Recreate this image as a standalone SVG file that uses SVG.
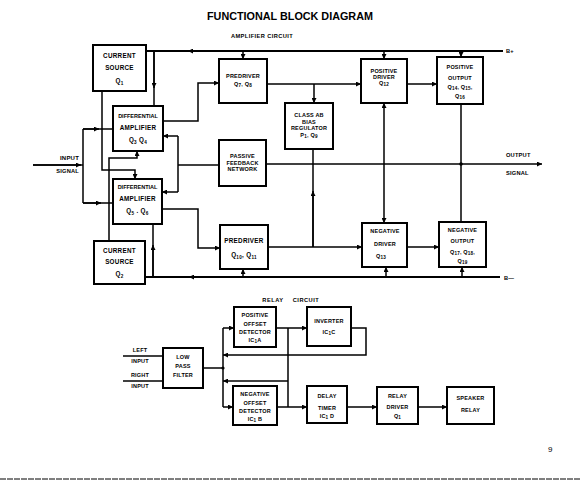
<svg xmlns="http://www.w3.org/2000/svg" width="580" height="480" viewBox="0 0 580 480">
<style>
.b{fill:none;stroke:#000;stroke-width:2}
.c path,.c line{fill:none;stroke:#000;stroke-width:1.5}
.c .rail{stroke-width:2}
text{font-family:"Liberation Sans",Arial,sans-serif;font-weight:bold;fill:#000}
.t{font-size:6.3px;text-anchor:middle;letter-spacing:0.3px}
.s{font-size:5.5px;text-anchor:middle;letter-spacing:0.2px}
.l{font-size:6px;letter-spacing:0.2px}
.u{font-size:4.6px}
</style>
<defs>
<marker id="ah" viewBox="0 0 6 6" refX="6" refY="3" markerWidth="5" markerHeight="5" markerUnits="userSpaceOnUse" orient="auto">
<path d="M0,0 L6,3 L0,6 z" fill="#000"/>
</marker>
<marker id="as" viewBox="0 0 6 6" refX="0" refY="3" markerWidth="5" markerHeight="5" markerUnits="userSpaceOnUse" orient="auto">
<path d="M6,0 L0,3 L6,6 z" fill="#000"/>
</marker>
</defs>
<rect width="580" height="480" fill="#fff"/>
<text x="290" y="20" style="font-size:10.8px;text-anchor:middle">FUNCTIONAL BLOCK DIAGRAM</text>
<text x="262" y="38" class="s" style="font-size:5.7px;letter-spacing:0.4px">AMPLIFIER CIRCUIT</text>
<text x="273" y="302" class="s" style="font-size:5.7px;letter-spacing:0.5px">RELAY</text>
<text x="306" y="302" class="s" style="font-size:5.7px;letter-spacing:0.5px">CIRCUIT</text>

<g class="c" id="connectors">
<path class="rail" d="M146,51 H503"/>
<path d="M200,51 H188" marker-end="url(#ah)"/>
<path d="M154,51 V106"/><path d="M154,51 V88" marker-end="url(#ah)"/>
<path d="M243,51 V59" marker-end="url(#ah)"/>
<path d="M384,51 V59" marker-end="url(#ah)"/>
<path d="M461,51 V57" marker-end="url(#ah)"/>
<path d="M102,91 V170 H135 V179" marker-end="url(#ah)"/>
<path d="M33,165 H83"/><path d="M33,165 H81" marker-end="url(#ah)"/>
<path d="M83,129 V203"/>
<path d="M83,129 H113"/><path d="M83,129 H99" marker-end="url(#ah)"/>
<path d="M83,203 H113"/><path d="M83,203 H101" marker-end="url(#ah)"/>
<path d="M109,241 V158 H137 V151" marker-end="url(#ah)"/>
<path class="rail" d="M145,277 H500"/>
<path d="M200,277 H189" marker-end="url(#ah)"/>
<path d="M153,277 V224"/><path d="M153,277 V245" marker-end="url(#ah)"/>
<path d="M243,277 V269" marker-end="url(#ah)"/>
<path d="M386,277 V267" marker-end="url(#ah)"/>
<path d="M462,277 V267" marker-end="url(#ah)"/>
<path d="M219,165 H178"/>
<path d="M178,136 V192"/>
<path d="M178,136 H163" marker-end="url(#ah)"/>
<path d="M178,192 H162" marker-end="url(#ah)"/>
<path d="M163,121 H198 V83 H219" marker-end="url(#ah)"/>
<path d="M162,209 H198 V248 H220" marker-end="url(#ah)"/>
<path d="M267,84 H361" marker-end="url(#ah)"/>
<path d="M314,84 V103" marker-end="url(#ah)"/>
<path d="M407,84 H437" marker-end="url(#ah)"/>
<path d="M268,247 H362" marker-end="url(#ah)"/>
<path d="M313,247 V149"/><path d="M313,247 V191" marker-end="url(#ah)"/>
<path d="M407,247 H439" marker-end="url(#ah)"/>
<path d="M384,103 V223" marker-start="url(#as)" marker-end="url(#ah)"/>
<path d="M461,104 V222"/>
<path d="M266,164 H542" marker-end="url(#ah)"/>
<circle cx="461" cy="164" r="1.8" fill="#000"/>
<path d="M123,356 H163"/>
<path d="M123,381 H163"/>
<path d="M203,368 H223"/>
<circle cx="223" cy="368" r="1.6" fill="#000"/>
<path d="M223,328 V407"/>
<path d="M223,328 H234" marker-end="url(#ah)"/>
<path d="M223,407 H233" marker-end="url(#ah)"/>
<path d="M276,328 H307" marker-end="url(#ah)"/>
<path d="M277,407 H307" marker-end="url(#ah)"/>
<path d="M288,328 V407"/>
<path d="M351,328 H366 V355 H223" marker-end="url(#ah)"/>
<path d="M288,381 H223" marker-end="url(#ah)"/>
<path d="M347,407 H377" marker-end="url(#ah)"/>
<path d="M418,407 H447" marker-end="url(#ah)"/>
</g>

<g id="cs1"><rect class="b" x="93" y="45" width="53" height="46"/>
<text class="t" x="119.5" y="58">CURRENT</text><text class="t" x="119.5" y="70">SOURCE</text><text class="t" x="119.5" y="83">Q<tspan class="u" dy="1.5">1</tspan></text></g>
<g id="da1"><rect class="b" x="113" y="106" width="50" height="45"/>
<text class="s" x="138" y="118" style="letter-spacing:0">DIFFERENTIAL</text><text class="t" x="138" y="130">AMPLIFIER</text><text class="t" x="138" y="142">Q<tspan class="u" dy="1.5">3</tspan><tspan dy="-1.5">  Q</tspan><tspan class="u" dy="1.5">4</tspan></text></g>
<g id="da2"><rect class="b" x="113" y="179" width="49" height="45"/>
<text class="s" x="137.5" y="189" style="letter-spacing:0">DIFFERENTIAL</text><text class="t" x="137.5" y="201">AMPLIFIER</text><text class="t" x="137.5" y="213">Q<tspan class="u" dy="1.5">5</tspan><tspan dy="-1.5"> . Q</tspan><tspan class="u" dy="1.5">6</tspan></text></g>
<g id="cs2"><rect class="b" x="94" y="241" width="51" height="43"/>
<text class="t" x="119.5" y="253">CURRENT</text><text class="t" x="119.5" y="264">SOURCE</text><text class="t" x="119.5" y="276">Q<tspan class="u" dy="1.5">2</tspan></text></g>
<g id="pd1"><rect class="b" x="219" y="59" width="48" height="44"/>
<text class="s" x="243" y="78">PREDRIVER</text><text class="s" x="243" y="86">Q<tspan class="u" dy="1.3">7</tspan><tspan dy="-1.3">, Q</tspan><tspan class="u" dy="1.3">8</tspan></text></g>
<g id="cab"><rect class="b" x="285" y="103" width="48" height="46"/>
<text class="s" x="309" y="117">CLASS AB</text><text class="s" x="309" y="123.5">BIAS</text><text class="s" x="309" y="130">REGULATOR</text><text class="s" x="309" y="136.5">P<tspan class="u" dy="1.3">1</tspan><tspan dy="-1.3">, Q</tspan><tspan class="u" dy="1.3">9</tspan></text></g>
<g id="pfn"><rect class="b" x="219" y="140" width="47" height="46"/>
<text class="s" x="242.5" y="158">PASSIVE</text><text class="s" x="242.5" y="164.5">FEEDBACK</text><text class="s" x="242.5" y="171">NETWORK</text></g>
<g id="pd2"><rect class="b" x="220" y="225" width="48" height="44"/>
<text class="t" x="244" y="243">PREDRIVER</text><text class="t" x="244" y="257">Q<tspan class="u" dy="1.5">10</tspan><tspan dy="-1.5">, Q</tspan><tspan class="u" dy="1.5">11</tspan></text></g>
<g id="pdr"><rect class="b" x="361" y="59" width="46" height="44"/>
<text class="s" x="384" y="73">POSITIVE</text><text class="s" x="384" y="79">DRIVER</text><text class="s" x="384" y="85">Q<tspan class="u" dy="1.3">12</tspan></text></g>
<g id="pout"><rect class="b" x="437" y="57" width="46" height="47"/>
<text class="s" x="460" y="69">POSITIVE</text><text class="s" x="460" y="80">OUTPUT</text><text class="s" x="460" y="89">Q<tspan class="u" dy="1.3">14</tspan><tspan dy="-1.3">, Q</tspan><tspan class="u" dy="1.3">15</tspan><tspan dy="-1.3">,</tspan></text><text class="s" x="460" y="98">Q<tspan class="u" dy="1.3">16</tspan></text></g>
<g id="ndr"><rect class="b" x="362" y="223" width="45" height="44"/>
<text class="s" x="385" y="233">NEGATIVE</text><text class="s" x="385" y="246">DRIVER</text><text class="s" x="381" y="258">Q<tspan class="u" dy="1.3">13</tspan></text></g>
<g id="nout"><rect class="b" x="439" y="222" width="47" height="45"/>
<text class="s" x="462.5" y="232">NEGATIVE</text><text class="s" x="462.5" y="243">OUTPUT</text><text class="s" x="462.5" y="254">Q<tspan class="u" dy="1.3">17</tspan><tspan dy="-1.3">, Q</tspan><tspan class="u" dy="1.3">18</tspan><tspan dy="-1.3">,</tspan></text><text class="s" x="462.5" y="263">Q<tspan class="u" dy="1.3">19</tspan></text></g>

<g id="labels">
<text class="l" x="79" y="160" text-anchor="end">INPUT</text>
<text class="l" x="79" y="173" text-anchor="end" style="font-size:5.7px">SIGNAL</text>
<text class="l" x="506" y="157" style="font-size:5.7px">OUTPUT</text>
<text class="l" x="506" y="175" style="font-size:5.7px">SIGNAL</text>
<text class="l" x="506" y="53" style="font-size:5.7px">B+</text>
<text class="l" x="504" y="280" style="font-size:5.7px">B—</text>
<text class="s" x="140" y="352">LEFT</text>
<text class="s" x="140" y="363">INPUT</text>
<text class="s" x="140" y="377">RIGHT</text>
<text class="s" x="140" y="388">INPUT</text>
<text x="548" y="452" style="font-size:8px;font-weight:normal">9</text>
</g>

<g id="lpf"><rect class="b" x="163" y="348" width="40" height="40"/>
<text class="s" x="183" y="359">LOW</text><text class="s" x="183" y="367.5">PASS</text><text class="s" x="183" y="377">FILTER</text></g>
<g id="pos"><rect class="b" x="234" y="307" width="42" height="40"/>
<text class="s" x="255" y="317">POSITIVE</text><text class="s" x="255" y="325.5">OFFSET</text><text class="s" x="255" y="334">DETECTOR</text><text class="s" x="255" y="342">IC<tspan class="u" dy="1.3">1</tspan><tspan dy="-1.3">A</tspan></text></g>
<g id="neg"><rect class="b" x="233" y="386" width="44" height="39"/>
<text class="s" x="255" y="396">NEGATIVE</text><text class="s" x="255" y="405">OFFSET</text><text class="s" x="255" y="413">DETECTOR</text><text class="s" x="255" y="421">IC<tspan class="u" dy="1.3">1</tspan><tspan dy="-1.3"> B</tspan></text></g>
<g id="inv"><rect class="b" x="307" y="307" width="44" height="39"/>
<text class="s" x="329" y="323">INVERTER</text><text class="s" x="329" y="334">IC<tspan class="u" dy="1.3">1</tspan><tspan dy="-1.3">C</tspan></text></g>
<g id="dly"><rect class="b" x="307" y="386" width="40" height="37"/>
<text class="s" x="327" y="398">DELAY</text><text class="s" x="327" y="410">TIMER</text><text class="s" x="327" y="418">IC<tspan class="u" dy="1.3">1</tspan><tspan dy="-1.3"> D</tspan></text></g>
<g id="rdr"><rect class="b" x="377" y="387" width="41" height="37"/>
<text class="s" x="397.5" y="398">RELAY</text><text class="s" x="397.5" y="409">DRIVER</text><text class="s" x="397.5" y="418">Q<tspan class="u" dy="1.3">1</tspan></text></g>
<g id="spk"><rect class="b" x="447" y="387" width="47" height="37"/>
<text class="s" x="470.5" y="400">SPEAKER</text><text class="s" x="470.5" y="412">RELAY</text></g>

<line x1="0" y1="479" x2="580" y2="479" stroke="#000" stroke-width="1" stroke-dasharray="6,1"/>
</svg>
